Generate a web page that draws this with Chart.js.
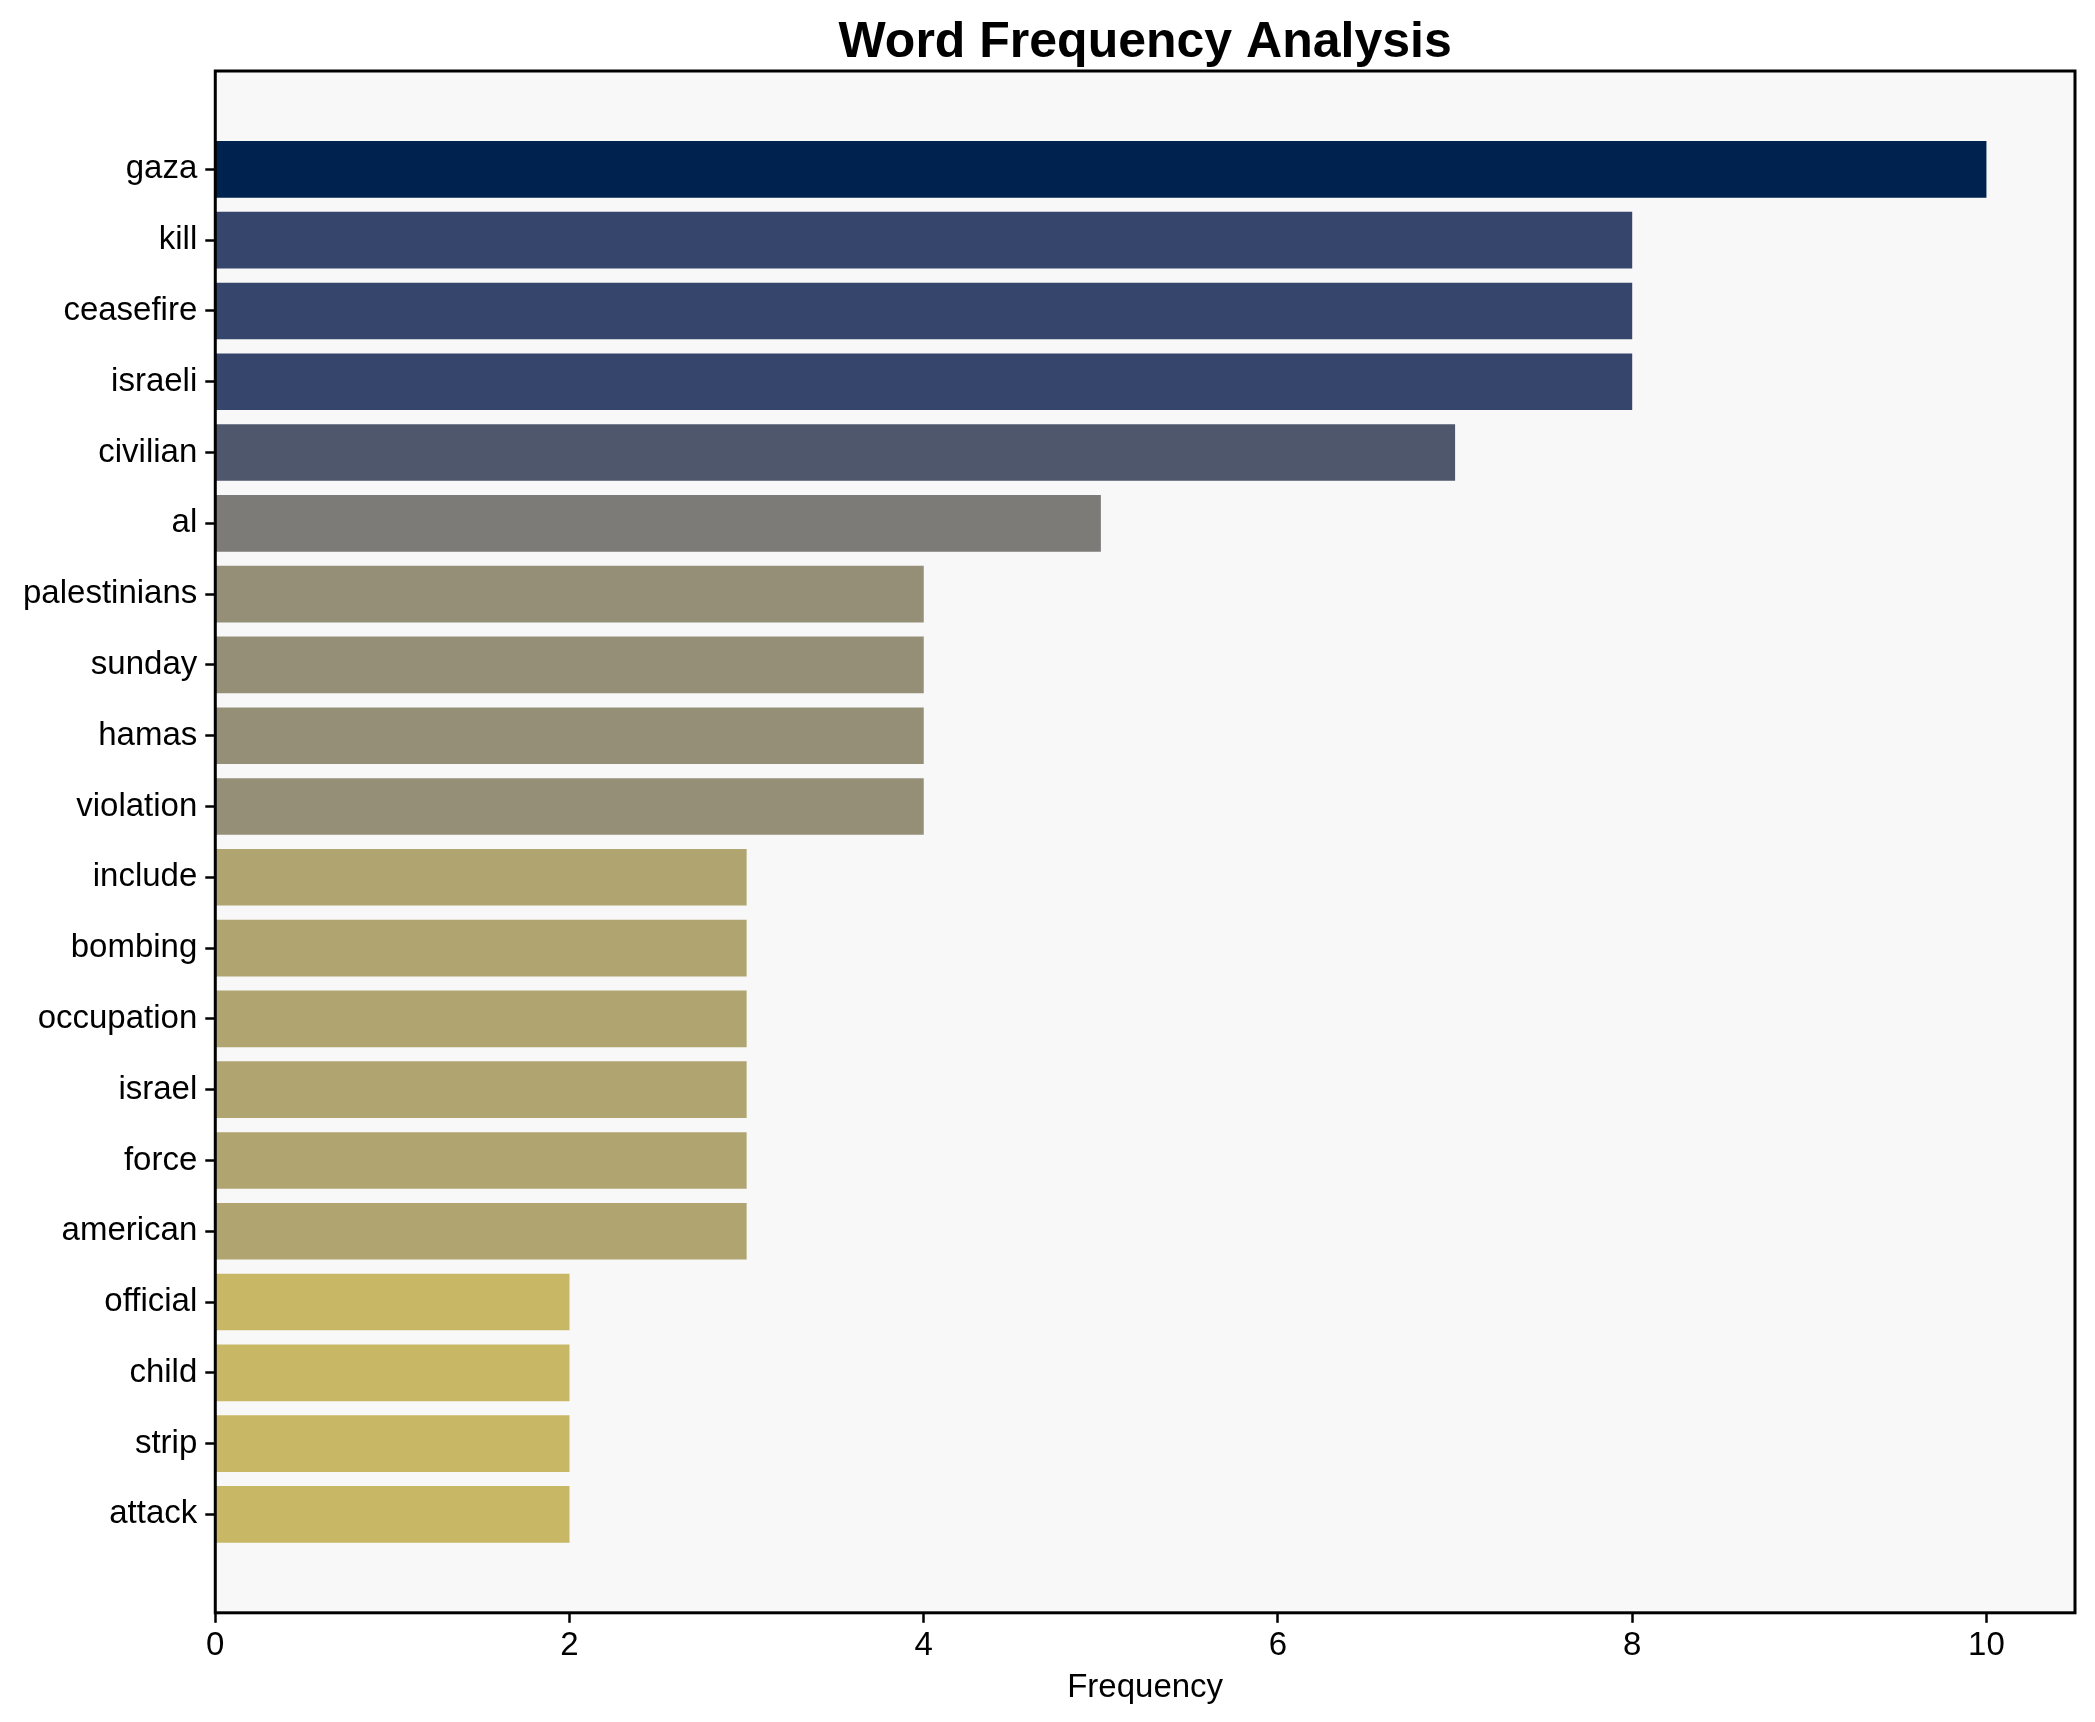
<!DOCTYPE html>
<html lang="en">
<head>
    <meta charset="UTF-8">
    <title>Word Frequency Analysis</title>
    <script src="https://cdn.jsdelivr.net/npm/chart.js"></script>
    <style>
        body {
            margin: 0;
            background: #ffffff;
        }
        canvas {
            display: block;
        }
    </style>
</head>
<body>
    <canvas id="myChart" width="2095" height="1722"></canvas>

    <script>
        const words = ['gaza', 'kill', 'ceasefire', 'israeli', 'civilian', 'al', 'palestinians', 'sunday',
            'hamas', 'violation', 'include', 'bombing', 'occupation', 'israel', 'force', 'american',
            'official', 'child', 'strip', 'attack'];
        const counts = [10, 8, 8, 8, 7, 5, 4, 4, 4, 4, 3, 3, 3, 3, 3, 3, 2, 2, 2, 2];
        const xTicks = [0, 2, 4, 6, 8, 10];

        const FONT = '"Liberation Sans", Arial, sans-serif';

        // cividis-like colour stops, picked by 1 - count/max
        const stops = [
            [0.0, [0, 34, 78]],
            [0.2, [53, 69, 108]],
            [0.3, [79, 87, 108]],
            [0.5, [124, 123, 120]],
            [0.6, [149, 143, 120]],
            [0.7, [176, 164, 112]],
            [0.8, [200, 184, 102]],
            [1.0, [254, 232, 56]]
        ];
        function cividis(t) {
            for (let i = 1; i < stops.length; i++) {
                if (t <= stops[i][0]) {
                    const [t0, c0] = stops[i - 1];
                    const [t1, c1] = stops[i];
                    const f = (t - t0) / (t1 - t0);
                    const c = c0.map((v, k) => Math.round(v + (c1[k] - v) * f));
                    return `rgb(${c[0]}, ${c[1]}, ${c[2]})`;
                }
            }
            return 'rgb(254, 232, 56)';
        }
        const maxCount = Math.max(...counts);
        const barColors = counts.map(v => cividis(1 - v / maxCount));

        const frame = {
            id: 'frame',
            beforeDraw(chart) {
                const {ctx, chartArea: a} = chart;
                ctx.save();
                ctx.fillStyle = '#f8f8f8';
                ctx.fillRect(a.left, a.top, a.right - a.left, a.bottom - a.top);
                ctx.restore();
            },
            afterDraw(chart) {
                const {ctx, chartArea: a} = chart;
                ctx.save();
                ctx.strokeStyle = '#000';
                ctx.lineWidth = 3;
                ctx.strokeRect(a.left, a.top, a.right - a.left, a.bottom - a.top);
                ctx.fillStyle = '#000';
                ctx.font = 'bold 50px ' + FONT;
                ctx.textAlign = 'center';
                ctx.textBaseline = 'middle';
                ctx.fillText('Word Frequency Analysis', (a.left + a.right) / 2, 43);
                ctx.restore();
            }
        };

        const ctx = document.getElementById('myChart').getContext('2d');
        new Chart(ctx, {
            type: 'bar',
            data: {
                datasets: [{
                    data: counts.map((c, i) => ({x: c, y: i})),
                    backgroundColor: barColors,
                    borderWidth: 0,
                    barPercentage: 0.8,
                    categoryPercentage: 1.0
                }]
            },
            options: {
                indexAxis: 'y',
                responsive: false,
                animation: false,
                devicePixelRatio: 1,
                layout: {
                    padding: {left: 15, right: 20, top: 71, bottom: 0}
                },
                plugins: {
                    legend: {display: false},
                    tooltip: {enabled: false},
                    title: {display: false}
                },
                scales: {
                    x: {
                        type: 'linear',
                        min: 0,
                        max: 10.5,
                        afterBuildTicks: scale => {
                            scale.ticks = xTicks.map(v => ({value: v}));
                        },
                        grid: {
                            drawOnChartArea: false,
                            drawTicks: true,
                            tickLength: 10,
                            tickColor: '#000',
                            tickWidth: 2.5
                        },
                        border: {display: false},
                        ticks: {
                            color: '#000',
                            padding: 3,
                            font: {family: FONT, size: 33}
                        },
                        title: {
                            display: true,
                            text: 'Frequency',
                            color: '#000',
                            padding: {top: 0, bottom: 14},
                            font: {family: FONT, size: 33}
                        }
                    },
                    y: {
                        type: 'linear',
                        reverse: true,
                        offset: false,
                        min: -1.39,
                        max: 20.39,
                        afterBuildTicks: scale => {
                            scale.ticks = words.map((w, i) => ({value: i}));
                        },
                        grid: {
                            offset: false,
                            drawOnChartArea: false,
                            drawTicks: true,
                            tickLength: 10,
                            tickColor: '#000',
                            tickWidth: 2.5
                        },
                        border: {display: false},
                        ticks: {
                            color: '#000',
                            padding: 8,
                            font: {family: FONT, size: 33},
                            callback: value => words[value]
                        }
                    }
                }
            },
            plugins: [frame]
        });
    </script>
</body>
</html>
